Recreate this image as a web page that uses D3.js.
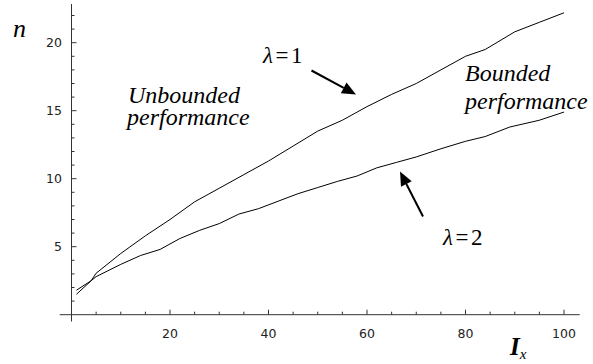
<!DOCTYPE html>
<html><head><meta charset="utf-8">
<script src="https://cdn.jsdelivr.net/npm/d3@7"></script>
<style>body{margin:0;background:#fff}svg{display:block}</style>
</head><body>
<svg id="c" width="593" height="364"></svg>
<script>
const xTicks = [20, 40, 60, 80, 100];
const yTicks = [5, 10, 15, 20];
const xLambda1 = [1, 4, 5, 10, 15, 20, 25, 30, 35, 40, 45, 50, 55, 60, 65, 70, 75, 80, 84, 90, 95, 100];
const nLambda1 = [1.5, 2.5, 3.05, 4.5, 5.8, 7.0, 8.3, 9.3, 10.3, 11.3, 12.4, 13.5, 14.3, 15.3, 16.2, 17.0, 18.0, 19.0, 19.5, 20.8, 21.5, 22.2];
const xLambda2 = [1, 4, 5, 10, 14, 18, 22, 26, 30, 34, 38, 42, 46, 50, 54, 58, 62, 66, 70, 75, 80, 84, 89, 95, 100];
const nLambda2 = [1.8, 2.5, 2.8, 3.7, 4.35, 4.8, 5.6, 6.2, 6.7, 7.4, 7.8, 8.35, 8.9, 9.35, 9.8, 10.2, 10.8, 11.2, 11.6, 12.2, 12.75, 13.1, 13.8, 14.3, 14.9];

const svg = d3.select("#c");
const x = d3.scaleLinear().domain([0, 100]).range([71.5, 564]);
const y = d3.scaleLinear().domain([0, 20]).range([314.7, 42.7]);
const SERIF = "'Liberation Serif'";
const SANS = "'DejaVu Sans'";

svg.append("line").attr("x1", x(-2.4)).attr("x2", x(103.2)).attr("y1", y(0)).attr("y2", y(0)).attr("stroke", "#333");
svg.append("line").attr("x1", x(0)).attr("x2", x(0)).attr("y1", y(-0.5)).attr("y2", y(22.85)).attr("stroke", "#333");

const xMinor = d3.range(5, 105, 5);
svg.selectAll(".xt").data(xMinor).join("line")
  .attr("x1", d => x(d)).attr("x2", d => x(d))
  .attr("y1", y(0)).attr("y2", d => y(0) - (d % 20 === 0 ? 5 : 3))
  .attr("stroke", "#333");
svg.selectAll(".xl").data(xTicks).join("text")
  .attr("x", d => x(d)).attr("y", 338).attr("text-anchor", "middle")
  .style("font-family", SANS).style("font-size", "12.5px").attr("fill", "#222").text(d => d);

const yMinor = d3.range(1, 23, 1);
svg.selectAll(".yt").data(yMinor).join("line")
  .attr("x1", x(0)).attr("x2", d => x(0) + (d % 5 === 0 ? 5 : 3))
  .attr("y1", d => y(d)).attr("y2", d => y(d))
  .attr("stroke", "#333");
svg.selectAll(".yl").data(yTicks).join("text")
  .attr("x", 62).attr("y", d => y(d) + 4.5).attr("text-anchor", "end")
  .style("font-family", SANS).style("font-size", "12.5px").attr("fill", "#222").text(d => d);

const line = d3.line().x(d => x(d[0])).y(d => y(d[1]));
svg.append("path").datum(xLambda1.map((v, i) => [v, nLambda1[i]]))
  .attr("d", line).attr("fill", "none").attr("stroke", "#000").attr("stroke-width", 1);
svg.append("path").datum(xLambda2.map((v, i) => [v, nLambda2[i]]))
  .attr("d", line).attr("fill", "none").attr("stroke", "#000").attr("stroke-width", 1);

svg.append("text").attr("x", 13).attr("y", 37).style("font-family", SERIF)
  .style("font-style", "italic").style("font-size", "26px").text("n");
const ix = svg.append("text").attr("x", 510).attr("y", 355).style("font-family", SERIF)
  .style("font-style", "italic").style("font-weight", "bold").style("font-size", "25px");
ix.append("tspan").text("I");
ix.append("tspan").attr("dy", 4).style("font-size", "15px").style("font-weight", "normal").text("x");

function label(tx, ty, txt) {
  svg.append("text").attr("x", tx).attr("y", ty).style("font-family", SERIF)
    .style("font-style", "italic").style("font-size", "24px").text(txt);
}
label(128, 103, "Unbounded");
label(127, 125, "performance");
label(465, 81, "Bounded");
label(465, 109, "performance");

function lam(tx, ty, v) {
  const t = svg.append("text").attr("x", tx).attr("y", ty).style("font-family", SERIF)
    .style("font-size", "23px").style("letter-spacing", "2.5px");
  t.append("tspan").style("font-style", "italic").text("λ");
  t.append("tspan").text("=" + v);
}
lam(263, 63, 1);
lam(443, 245, 2);

function arrow(x1, y1, x2, y2) {
  const ang = Math.atan2(y2 - y1, x2 - x1);
  const L = 14, W = 6;
  const bx = x2 - L * Math.cos(ang), by = y2 - L * Math.sin(ang);
  svg.append("line").attr("x1", x1).attr("y1", y1).attr("x2", bx).attr("y2", by)
    .attr("stroke", "#000").attr("stroke-width", 2);
  const px = -Math.sin(ang) * W, py = Math.cos(ang) * W;
  svg.append("path").attr("d", `M${x2},${y2}L${bx + px},${by + py}L${bx - px},${by - py}Z`).attr("fill", "#000");
}
arrow(311.5, 70.5, 356, 94.5);
arrow(423, 216.5, 400, 171.5);
</script>
</body></html>
